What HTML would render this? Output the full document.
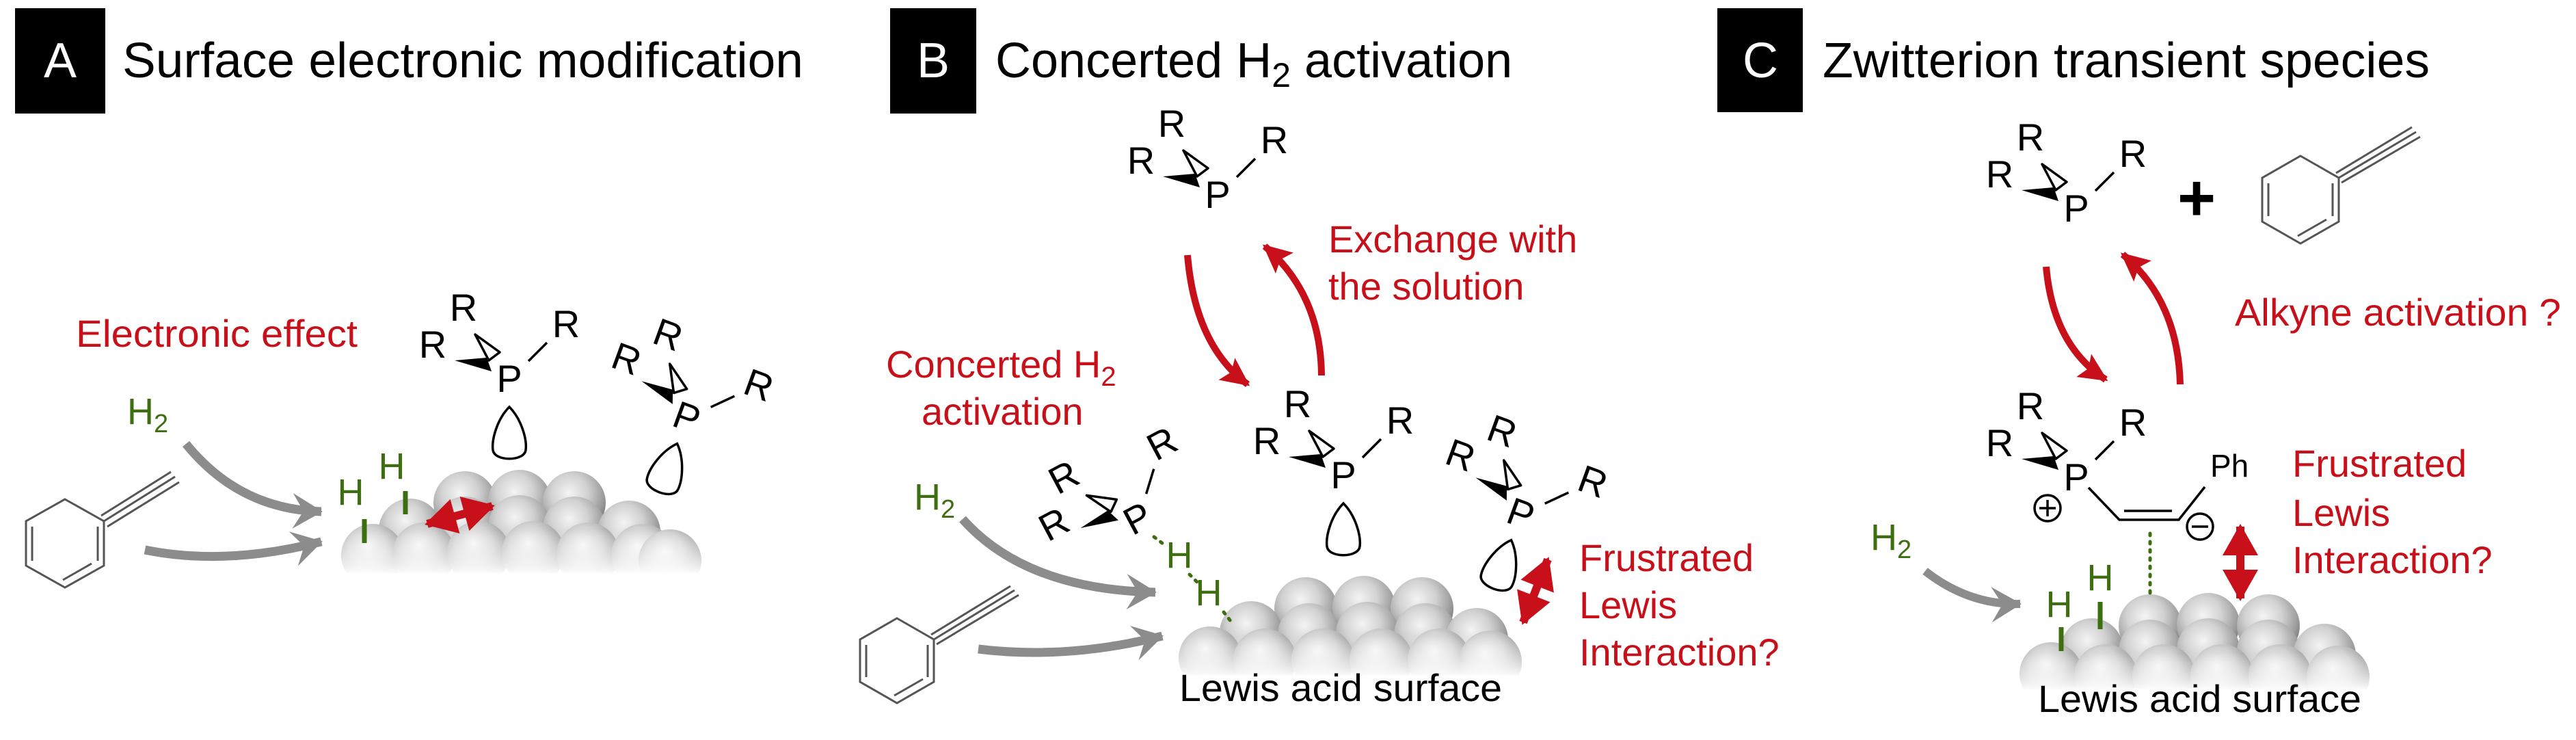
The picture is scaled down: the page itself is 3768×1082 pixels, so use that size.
<!DOCTYPE html>
<html><head><meta charset="utf-8"><style>
html,body{margin:0;padding:0;background:#fff;}
svg{display:block;}
text{font-family:"Liberation Sans",Arial,sans-serif;}
</style></head><body>
<svg width="3768" height="1082" viewBox="0 0 3768 1082" xmlns="http://www.w3.org/2000/svg">
<defs>
<radialGradient id="sg" cx="0.42" cy="0.35" r="0.65">
<stop offset="0" stop-color="#f4f4f4"/><stop offset="0.45" stop-color="#d2d2d2"/><stop offset="0.85" stop-color="#9a9a9a"/><stop offset="1" stop-color="#7e7e7e"/>
</radialGradient>
<linearGradient id="fade" x1="0" y1="0" x2="0" y2="1">
<stop offset="0" stop-color="#fff" stop-opacity="0"/><stop offset="1" stop-color="#fff" stop-opacity="1"/>
</linearGradient>
<circle id="s" r="46" fill="url(#sg)"/>
<marker id="ga" markerUnits="userSpaceOnUse" viewBox="-45 -30 50 60" markerWidth="50" markerHeight="60" refX="0" refY="0" orient="auto">
<path d="M2,0 L-42,-26 L-26,0 L-42,26 Z" fill="#8c8c8c"/></marker>
<marker id="ra" markerUnits="userSpaceOnUse" viewBox="-45 -25 50 50" markerWidth="50" markerHeight="50" refX="0" refY="0" orient="auto">
<path d="M4,0 L-38,-20 L-30,0 L-38,20 Z" fill="#c8101a"/></marker>
<marker id="rd" markerUnits="userSpaceOnUse" viewBox="-50 -30 55 60" markerWidth="55" markerHeight="60" refX="0" refY="0" orient="auto-start-reverse">
<path d="M4,0 L-42,-26 L-42,26 Z" fill="#c8101a"/></marker>
<g id="phs">
<path d="M-80,-46 L-26,-30 L-33,-50 Z" fill="#000"/>
<path d="M-50,-84 L-14,-58 L-30,-46 Z" fill="none" stroke="#000" stroke-width="3.5" stroke-linejoin="round"/>
<line x1="28" y1="-45" x2="55" y2="-72" stroke="#000" stroke-width="3.5"/>
</g>
<path id="lp" d="M0,22 C18,40 26,70 24,85 C22,102 -22,102 -24,85 C-26,70 -18,40 0,22 Z" fill="none" stroke="#000" stroke-width="3.5"/>
</defs>

<g font-size="72">
<rect x="22" y="12" width="132" height="154" fill="#000"/>
<text x="88" y="113" fill="#fff" text-anchor="middle">A</text>
<text x="179" y="113" textLength="996" lengthAdjust="spacingAndGlyphs">Surface electronic modification</text>
<rect x="1302" y="12" width="126" height="154" fill="#000"/>
<text x="1365" y="113" fill="#fff" text-anchor="middle">B</text>
<text x="1456" y="113">Concerted H<tspan font-size="50" dy="14">2</tspan><tspan dy="-14"> activation</tspan></text>
<rect x="2512" y="12" width="125" height="152" fill="#000"/>
<text x="2575" y="113" fill="#fff" text-anchor="middle">C</text>
<text x="2666" y="113" textLength="888" lengthAdjust="spacingAndGlyphs">Zwitterion transient species</text>
</g>

<!-- PANEL A -->
<g>
<use href="#s" x="680" y="735"/><use href="#s" x="760" y="733"/><use href="#s" x="840" y="735"/>
<use href="#s" x="600" y="775"/><use href="#s" x="680" y="772"/><use href="#s" x="760" y="770"/><use href="#s" x="840" y="772"/><use href="#s" x="920" y="778"/>
<use href="#s" x="545" y="812"/><use href="#s" x="620" y="810"/><use href="#s" x="700" y="808"/><use href="#s" x="780" y="808"/><use href="#s" x="860" y="810"/><use href="#s" x="940" y="812"/><use href="#s" x="980" y="820"/>
<rect x="480" y="775" width="560" height="65" fill="url(#fade)"/>
<rect x="480" y="838" width="560" height="40" fill="#fff"/>
</g>
<text x="111" y="507" font-size="56" fill="#c8101a" textLength="412" lengthAdjust="spacingAndGlyphs">Electronic effect</text>
<text x="186" y="620" font-size="54" fill="#3d6e0f">H<tspan font-size="38" dy="12">2</tspan></text>
<g fill="none" stroke="#555" stroke-width="3">
<polygon points="95,730 152,762 152,827 95,859 38,827 38,762"/>
<line x1="143" y1="770" x2="143" y2="820"/><line x1="47" y1="770" x2="47" y2="820"/><line x1="92" y1="848" x2="134" y2="824"/>
<line x1="152" y1="762" x2="256" y2="697"/><line x1="148" y1="754" x2="250" y2="690"/><line x1="157" y1="770" x2="262" y2="705"/>
</g>
<path d="M272,649 Q350,745 470,748" fill="none" stroke="#8c8c8c" stroke-width="13" marker-end="url(#ga)"/>
<path d="M212,804 Q330,828 470,792" fill="none" stroke="#8c8c8c" stroke-width="13" marker-end="url(#ga)"/>
<g fill="#3d6e0f" font-size="54"><text x="513" y="738" text-anchor="middle">H</text><text x="573" y="700" text-anchor="middle">H</text></g>
<line x1="533" y1="759" x2="533" y2="794" stroke="#3d6e0f" stroke-width="7"/>
<line x1="593" y1="718" x2="593" y2="752" stroke="#3d6e0f" stroke-width="7"/>
<line x1="625" y1="766" x2="720" y2="740" stroke="#c8101a" stroke-width="12" marker-start="url(#rd)" marker-end="url(#rd)"/>
<g transform="translate(745,573)"><use href="#phs"/><use href="#lp"/>
<g font-size="56" text-anchor="middle"><text x="0" y="0">P</text><text x="-67" y="-104">R</text><text x="-112" y="-50">R</text><text x="83" y="-80">R</text></g></g>
<g transform="translate(998,628) rotate(20)"><use href="#phs"/><use href="#lp"/>
<g font-size="56" text-anchor="middle"><text x="0" y="0">P</text><text x="-67" y="-104">R</text><text x="-112" y="-50">R</text><text x="83" y="-80">R</text></g></g>

<!-- PANEL B -->
<g>
<use href="#s" x="1910" y="890"/><use href="#s" x="1995" y="888"/><use href="#s" x="2080" y="890"/>
<use href="#s" x="1830" y="925"/><use href="#s" x="1915" y="928"/><use href="#s" x="2000" y="926"/><use href="#s" x="2085" y="928"/><use href="#s" x="2160" y="935"/>
<use href="#s" x="1770" y="962"/><use href="#s" x="1850" y="965"/><use href="#s" x="1935" y="965"/><use href="#s" x="2020" y="965"/><use href="#s" x="2105" y="965"/><use href="#s" x="2180" y="968"/>
<rect x="1700" y="930" width="560" height="60" fill="url(#fade)"/>
<rect x="1700" y="988" width="560" height="55" fill="#fff"/>
</g>
<text x="1725" y="1025" font-size="56" textLength="472" lengthAdjust="spacingAndGlyphs">Lewis acid surface</text>
<g fill="none" stroke="#555" stroke-width="3">
<polygon points="1312,904 1366,935 1366,997 1312,1028 1258,997 1258,935"/>
<line x1="1357" y1="943" x2="1357" y2="990"/><line x1="1267" y1="943" x2="1267" y2="990"/><line x1="1308" y1="1017" x2="1350" y2="993"/>
<line x1="1366" y1="935" x2="1484" y2="863"/><line x1="1362" y1="928" x2="1478" y2="857"/><line x1="1370" y1="942" x2="1490" y2="870"/>
</g>
<text x="1337" y="745" font-size="54" fill="#3d6e0f">H<tspan font-size="38" dy="12">2</tspan></text>
<path d="M1408,759 Q1500,862 1690,866" fill="none" stroke="#8c8c8c" stroke-width="13" marker-end="url(#ga)"/>
<path d="M1431,949 Q1560,965 1700,930" fill="none" stroke="#8c8c8c" stroke-width="13" marker-end="url(#ga)"/>
<g fill="#c8101a" font-size="56">
<text x="1296" y="552">Concerted H<tspan font-size="40" dy="12">2</tspan></text>
<text x="1348" y="621">activation</text>
<text x="1943" y="369">Exchange with</text>
<text x="1943" y="438">the solution</text>
<text x="2310" y="835">Frustrated</text><text x="2310" y="904">Lewis</text><text x="2310" y="973">Interaction?</text>
</g>
<path d="M1737,373 Q1748,505 1825,562" fill="none" stroke="#c8101a" stroke-width="10" marker-end="url(#ra)"/>
<path d="M1933,549 Q1932,430 1850,360" fill="none" stroke="#c8101a" stroke-width="10" marker-end="url(#ra)"/>
<g transform="translate(1781,304)">
<use href="#phs"/><g font-size="56" text-anchor="middle"><text x="0" y="0">P</text><text x="-67" y="-104">R</text><text x="-112" y="-50">R</text><text x="83" y="-80">R</text></g></g>
<g transform="translate(1965,714)"><use href="#phs"/><use href="#lp"/>
<g font-size="56" text-anchor="middle"><text x="0" y="0">P</text><text x="-67" y="-104">R</text><text x="-112" y="-50">R</text><text x="83" y="-80">R</text></g></g>
<g transform="translate(2218,769) rotate(20)"><use href="#phs"/><use href="#lp"/>
<g font-size="56" text-anchor="middle"><text x="0" y="0">P</text><text x="-67" y="-104">R</text><text x="-112" y="-50">R</text><text x="83" y="-80">R</text></g></g>
<g transform="translate(1673,775) rotate(-28)"><use href="#phs"/>
<g font-size="56" text-anchor="middle"><text x="0" y="0">P</text><text x="-67" y="-104">R</text><text x="-112" y="-50">R</text><text x="83" y="-80">R</text></g></g>
<g fill="#3d6e0f" font-size="54" text-anchor="middle"><text x="1725" y="830">H</text><text x="1768" y="885">H</text></g>
<g stroke="#3d6e0f" stroke-width="5" stroke-dasharray="3 9" stroke-linecap="round">
<line x1="1688" y1="785" x2="1705" y2="798"/><line x1="1740" y1="840" x2="1752" y2="852"/><line x1="1790" y1="895" x2="1803" y2="912"/>
</g>
<line x1="2228" y1="910" x2="2264" y2="818" stroke="#c8101a" stroke-width="12" marker-start="url(#rd)" marker-end="url(#rd)"/>

<!-- PANEL C -->
<g>
<use href="#s" x="3145" y="915"/><use href="#s" x="3230" y="913"/><use href="#s" x="3318" y="915"/>
<use href="#s" x="3060" y="950"/><use href="#s" x="3145" y="952"/><use href="#s" x="3230" y="950"/><use href="#s" x="3318" y="952"/><use href="#s" x="3400" y="958"/>
<use href="#s" x="3000" y="985"/><use href="#s" x="3080" y="988"/><use href="#s" x="3165" y="988"/><use href="#s" x="3250" y="988"/><use href="#s" x="3335" y="988"/><use href="#s" x="3420" y="990"/>
<rect x="2950" y="955" width="560" height="55" fill="url(#fade)"/>
<rect x="2950" y="1008" width="560" height="50" fill="#fff"/>
</g>
<text x="2981" y="1041" font-size="56" textLength="473" lengthAdjust="spacingAndGlyphs">Lewis acid surface</text>
<g transform="translate(3037,324)">
<use href="#phs"/><g font-size="56" text-anchor="middle"><text x="0" y="0">P</text><text x="-67" y="-104">R</text><text x="-112" y="-50">R</text><text x="83" y="-80">R</text></g></g>
<text x="3213" y="322" font-size="96" font-weight="bold" text-anchor="middle">+</text>
<g fill="none" stroke="#555" stroke-width="3">
<polygon points="3365,228 3421,260 3421,324 3365,356 3309,324 3309,260"/>
<line x1="3412" y1="268" x2="3412" y2="316"/><line x1="3318" y1="268" x2="3318" y2="316"/><line x1="3361" y1="345" x2="3403" y2="321"/>
<line x1="3421" y1="260" x2="3534" y2="193"/><line x1="3417" y1="253" x2="3528" y2="186"/><line x1="3425" y1="267" x2="3540" y2="200"/>
</g>
<path d="M2993,390 Q3003,505 3080,555" fill="none" stroke="#c8101a" stroke-width="10" marker-end="url(#ra)"/>
<path d="M3189,562 Q3186,440 3105,372" fill="none" stroke="#c8101a" stroke-width="10" marker-end="url(#ra)"/>
<g fill="#c8101a" font-size="56">
<text x="3269" y="476" textLength="477" lengthAdjust="spacingAndGlyphs">Alkyne activation ?</text>
<text x="3353" y="697">Frustrated</text><text x="3353" y="769">Lewis</text><text x="3353" y="838">Interaction?</text>
</g>
<g transform="translate(3037,717)">
<use href="#phs"/><g font-size="56" text-anchor="middle"><text x="0" y="0">P</text><text x="-67" y="-104">R</text><text x="-112" y="-50">R</text><text x="83" y="-80">R</text></g></g>
<g fill="none" stroke="#000" stroke-width="3.5">
<polyline points="3055,713 3100,760 3187,760 3225,712"/>
<line x1="3107" y1="747" x2="3177" y2="747"/>
<circle cx="2995" cy="743" r="19"/><line x1="2983" y1="743" x2="3007" y2="743"/><line x1="2995" y1="731" x2="2995" y2="755"/>
<circle cx="3218" cy="770" r="19"/><line x1="3206" y1="770" x2="3230" y2="770"/>
</g>
<text x="3233" y="697" font-size="46">Ph</text>
<line x1="3145" y1="780" x2="3145" y2="875" stroke="#3d6e0f" stroke-width="5" stroke-dasharray="3 9" stroke-linecap="round"/>
<line x1="3277" y1="770" x2="3277" y2="875" stroke="#c8101a" stroke-width="12" marker-start="url(#rd)" marker-end="url(#rd)"/>
<text x="2736" y="804" font-size="54" fill="#3d6e0f">H<tspan font-size="38" dy="12">2</tspan></text>
<path d="M2816,835 Q2880,885 2955,883" fill="none" stroke="#8c8c8c" stroke-width="12" marker-end="url(#ga)"/>
<g fill="#3d6e0f" font-size="54" text-anchor="middle"><text x="3012" y="902">H</text><text x="3072" y="863">H</text></g>
<line x1="3015" y1="917" x2="3015" y2="952" stroke="#3d6e0f" stroke-width="7"/>
<line x1="3072" y1="880" x2="3072" y2="920" stroke="#3d6e0f" stroke-width="7"/>
</svg>
</body></html>
